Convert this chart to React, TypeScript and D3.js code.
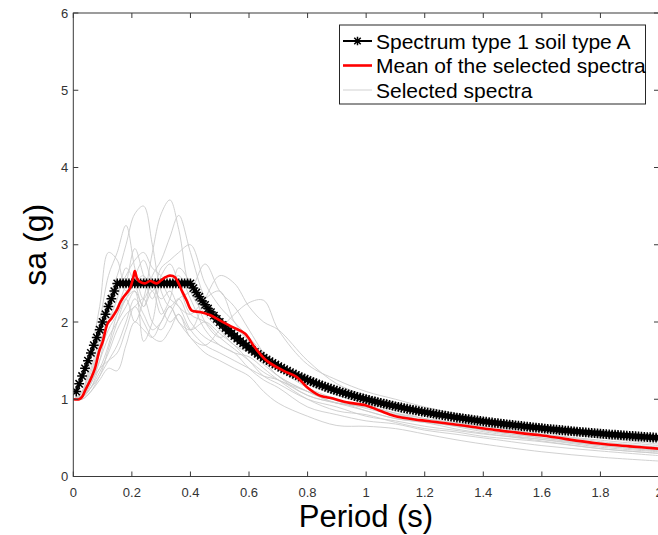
import React from "react";
import * as d3 from "d3";

// ---------- data ----------
const X_TICKS = [0, 0.2, 0.4, 0.6, 0.8, 1, 1.2, 1.4, 1.6, 1.8, 2];
const Y_TICKS = [0, 1, 2, 3, 4, 5, 6];

// Design spectrum (type 1, soil A), sampled every 0.01 s from 0.01 s to 2.00 s
const SPEC_SA = [
  1.1, 1.2, 1.3, 1.4, 1.5, 1.6, 1.7, 1.8, 1.9, 2.0, 2.1, 2.2, 2.3, 2.4, 2.5,
  2.5, 2.5, 2.5, 2.5, 2.5, 2.5, 2.5, 2.5, 2.5, 2.5, 2.5, 2.5, 2.5, 2.5, 2.5,
  2.5, 2.5, 2.5, 2.5, 2.5, 2.5, 2.5, 2.5, 2.5, 2.5,
  2.439, 2.381, 2.326, 2.273, 2.222, 2.174, 2.128, 2.083, 2.041, 2.0,
  1.961, 1.923, 1.887, 1.852, 1.818, 1.786, 1.754, 1.724, 1.695, 1.667,
  1.639, 1.613, 1.587, 1.563, 1.538, 1.515, 1.493, 1.471, 1.449, 1.429,
  1.408, 1.389, 1.37, 1.351, 1.333, 1.316, 1.299, 1.282, 1.266, 1.25,
  1.235, 1.22, 1.205, 1.19, 1.176, 1.163, 1.149, 1.136, 1.124, 1.111,
  1.099, 1.087, 1.075, 1.064, 1.053, 1.042, 1.031, 1.02, 1.01, 1.0,
  0.99, 0.98, 0.971, 0.962, 0.952, 0.943, 0.935, 0.926, 0.917, 0.909,
  0.901, 0.893, 0.885, 0.877, 0.87, 0.862, 0.855, 0.847, 0.84, 0.833,
  0.826, 0.82, 0.813, 0.806, 0.8, 0.794, 0.787, 0.781, 0.775, 0.769,
  0.763, 0.758, 0.752, 0.746, 0.741, 0.735, 0.73, 0.725, 0.719, 0.714,
  0.709, 0.704, 0.699, 0.694, 0.69, 0.685, 0.68, 0.676, 0.671, 0.667,
  0.662, 0.658, 0.654, 0.649, 0.645, 0.641, 0.637, 0.633, 0.629, 0.625,
  0.621, 0.617, 0.613, 0.61, 0.606, 0.602, 0.599, 0.595, 0.592, 0.588,
  0.585, 0.581, 0.578, 0.575, 0.571, 0.568, 0.565, 0.562, 0.559, 0.556,
  0.552, 0.549, 0.546, 0.543, 0.541, 0.538, 0.535, 0.532, 0.529, 0.526,
  0.524, 0.521, 0.518, 0.515, 0.513, 0.51, 0.508, 0.505, 0.503, 0.5,
];
const SPEC_T = SPEC_SA.map((_, i) => (i + 1) / 100);

// Mean of selected spectra
const MEAN_T = [
  0, 0.02, 0.03, 0.04, 0.057, 0.074, 0.089, 0.1, 0.117, 0.131, 0.148, 0.16,
  0.171, 0.193, 0.205, 0.21, 0.218, 0.228, 0.245, 0.262, 0.285, 0.3, 0.315,
  0.33, 0.347, 0.37, 0.387, 0.404, 0.432, 0.467, 0.5, 0.546, 0.586, 0.62,
  0.66, 0.717, 0.762, 0.797, 0.84, 0.887, 0.933, 1.0, 1.047, 1.1, 1.183,
  1.25, 1.33, 1.445, 1.6, 1.786, 1.9, 2.0,
];
const MEAN_SA = [
  1.0, 1.0, 1.03, 1.11, 1.24, 1.4, 1.63, 1.74, 1.98, 2.05, 2.15, 2.25,
  2.32, 2.43, 2.58, 2.66, 2.56, 2.52, 2.5, 2.53, 2.5, 2.54, 2.58,
  2.6, 2.58, 2.41, 2.28, 2.15, 2.13, 2.09, 2.02, 1.93, 1.85, 1.67,
  1.5, 1.37, 1.29, 1.16, 1.05, 1.01, 0.96, 0.92, 0.85, 0.78, 0.73,
  0.7, 0.66, 0.6, 0.53, 0.43, 0.39, 0.36,
];

// Selected spectra, sampled on a shared period grid
const SEL_T = [
  0, 0.03, 0.06, 0.09, 0.12, 0.15, 0.18, 0.21, 0.24, 0.27, 0.3, 0.33, 0.36,
  0.4, 0.45, 0.5, 0.55, 0.6, 0.65, 0.7, 0.8, 0.9, 1.0, 1.1, 1.2, 1.3, 1.4,
  1.6, 1.8, 2.0,
];
const SEL_1 = [1.0,1.05,1.25,1.6,1.9,2.1,2.3,2.0,2.3,2.9,3.4,3.58,3.2,2.4,2.1,1.9,1.7,1.6,1.45,1.3,1.1,0.95,0.9,0.8,0.72,0.66,0.6,0.5,0.4,0.33];
const SEL_2 = [1.0,1.1,1.4,1.8,2.3,2.6,3.0,3.4,3.5,3.0,2.4,2.2,2.3,2.0,1.8,1.7,1.6,1.55,1.4,1.25,1.0,0.85,0.8,0.7,0.62,0.58,0.52,0.45,0.36,0.3];
const SEL_3 = [1.0,1.08,1.5,2.0,2.6,2.9,3.25,2.7,2.3,2.5,2.2,2.0,2.1,1.9,2.0,1.85,1.7,1.5,1.3,1.2,1.0,0.9,0.78,0.72,0.65,0.6,0.55,0.48,0.4,0.34];
const SEL_4 = [1.0,1.1,1.6,2.2,2.9,2.8,2.4,2.6,2.8,2.5,2.3,2.4,2.2,2.1,2.3,2.4,2.0,1.75,1.5,1.3,1.05,0.95,0.85,0.75,0.7,0.66,0.62,0.55,0.45,0.38];
const SEL_5 = [1.0,1.02,1.2,1.5,1.8,2.0,2.2,2.4,2.2,2.6,2.8,3.1,3.38,2.9,2.3,2.0,1.8,1.7,1.55,1.4,1.2,1.05,0.95,0.85,0.75,0.7,0.65,0.58,0.5,0.45];
const SEL_6 = [1.0,1.03,1.25,1.4,1.7,2.1,2.3,2.5,2.6,2.4,2.7,2.8,2.9,3.0,2.5,2.2,2.0,1.8,1.6,1.45,1.25,1.1,1.0,0.92,0.85,0.78,0.72,0.62,0.52,0.45];
const SEL_7 = [1.0,1.02,1.15,1.35,1.6,1.9,2.1,2.2,2.3,2.0,1.9,2.1,2.3,2.4,2.75,2.4,2.2,1.9,1.6,1.4,1.15,1.0,0.88,0.8,0.72,0.68,0.6,0.5,0.42,0.35];
const SEL_8 = [1.0,1.0,1.1,1.3,1.5,1.7,2.0,2.3,2.1,1.9,2.0,2.2,2.0,1.9,2.3,2.6,2.5,2.2,2.0,1.9,1.5,1.2,1.05,0.95,0.85,0.8,0.75,0.65,0.55,0.48];
const SEL_9 = [1.0,1.03,1.15,1.4,1.5,1.6,1.9,2.2,2.0,1.8,1.75,1.9,2.1,1.8,1.7,1.9,2.1,2.25,2.28,1.9,1.45,1.25,1.1,1.0,0.9,0.82,0.75,0.62,0.5,0.42];
const SEL_10 = [1.0,1.0,1.1,1.25,1.4,1.37,1.7,2.0,1.9,1.8,2.0,2.2,2.0,1.8,1.6,1.5,1.4,1.3,1.1,0.95,0.78,0.66,0.65,0.62,0.55,0.48,0.42,0.32,0.25,0.2];
const SEL_11 = [1.0,1.05,1.3,1.7,2.1,2.4,2.6,2.8,2.9,2.7,2.6,2.5,2.6,2.3,1.9,1.7,1.6,1.4,1.25,1.15,0.9,0.8,0.72,0.68,0.6,0.55,0.5,0.4,0.33,0.27];
const SEL_12 = [1.0,1.04,1.2,1.5,2.0,2.2,2.5,2.95,2.6,2.3,2.6,2.75,2.5,2.1,2.0,1.8,1.65,1.5,1.35,1.25,1.1,0.98,0.85,0.75,0.7,0.62,0.56,0.46,0.36,0.3];
const SEL_13 = [1.0,1.06,1.35,1.7,2.0,2.3,2.7,2.5,2.2,2.4,2.1,2.3,2.7,2.5,2.0,1.8,1.9,1.75,1.5,1.3,1.1,0.95,0.92,0.82,0.72,0.65,0.58,0.48,0.38,0.32];
const SEL_14 = [1.0,1.02,1.15,1.3,1.65,2.0,2.3,2.4,1.75,2.0,2.5,2.3,2.2,1.9,1.7,1.6,1.5,1.4,1.3,1.25,1.05,0.95,0.9,0.82,0.75,0.7,0.65,0.55,0.47,0.4];
const SELECTED = [SEL_1, SEL_2, SEL_3, SEL_4, SEL_5, SEL_6, SEL_7, SEL_8, SEL_9, SEL_10, SEL_11, SEL_12, SEL_13, SEL_14];

const LEGEND = ["Spectrum type 1 soil type A", "Mean of the selected spectra", "Selected spectra"];

// ---------- layout ----------
const W = 658;
const H = 535;
const L = 73.3;
const R = 659;
const T = 13;
const B = 476.5;
const FONT = "'Liberation Sans', Arial, Helvetica, sans-serif";
const AXIS = "#3a3a3a";

export default function App() {
  const x = d3.scaleLinear().domain([0, 2]).range([L, R]);
  const y = d3.scaleLinear().domain([0, 6]).range([B, T]);

  const grayLine = d3
    .line<number>()
    .x((_, i) => x(SEL_T[i]))
    .y((d) => y(d))
    .curve(d3.curveCatmullRom.alpha(0.5));

  const meanLine = d3
    .line<number>()
    .x((_, i) => x(MEAN_T[i]))
    .y((d) => y(d))
    .curve(d3.curveCatmullRom.alpha(0.5));

  const specLine = d3
    .line<number>()
    .x((_, i) => x(SPEC_T[i]))
    .y((d) => y(d));

  const star = (cx: number, cy: number, s: number) => {
    const d = s * 0.75;
    return `M${cx - s},${cy}H${cx + s}M${cx},${cy - s}V${cy + s}M${cx - d},${cy - d}L${cx + d},${cy + d}M${cx - d},${cy + d}L${cx + d},${cy - d}`;
  };
  const markers = SPEC_SA.map((v, i) => star(x(SPEC_T[i]), y(v), 4.9)).join("");

  const tickLen = 5;

  // legend geometry
  const lgX = 339.5;
  const lgY = 25;
  const lgW = 306;
  const lgH = 79;
  const rowY = [41, 65.5, 90];

  return (
    <div style={{ position: "absolute", left: 0, top: 0 }}>
      <svg width={W} height={H} style={{ display: "block", background: "#fff" }}>
        <defs>
          <clipPath id="plotclip">
            <rect x={L} y={T} width={R - L} height={B - T} />
          </clipPath>
        </defs>

        <g clipPath="url(#plotclip)">
          {SELECTED.map((s, k) => (
            <path key={k} d={grayLine(s) || ""} fill="none" stroke="#cccccc" strokeWidth={0.9} />
          ))}
          <path d={specLine(SPEC_SA) || ""} fill="none" stroke="#000" strokeWidth={2} />
          <path d={markers} fill="none" stroke="#000" strokeWidth={1.5} />
          <path d={meanLine(MEAN_SA) || ""} fill="none" stroke="#ff0000" strokeWidth={2.6} strokeLinejoin="round" />
        </g>

        {/* axes box */}
        <rect x={L} y={T} width={R - L} height={B - T} fill="none" stroke={AXIS} strokeWidth={1} />
        {X_TICKS.map((t) => (
          <g key={"x" + t}>
            <line x1={x(t)} x2={x(t)} y1={B} y2={B - tickLen} stroke={AXIS} />
            <line x1={x(t)} x2={x(t)} y1={T} y2={T + tickLen} stroke={AXIS} />
            <text x={x(t)} y={B + 20} textAnchor="middle" fontFamily={FONT} fontSize={13} fill="#333">
              {t}
            </text>
          </g>
        ))}
        {Y_TICKS.map((t) => (
          <g key={"y" + t}>
            <line x1={L} x2={L + tickLen} y1={y(t)} y2={y(t)} stroke={AXIS} />
            <line x1={R} x2={R - tickLen} y1={y(t)} y2={y(t)} stroke={AXIS} />
            <text x={L - 5} y={y(t) + 4.5} textAnchor="end" fontFamily={FONT} fontSize={13} fill="#333">
              {t}
            </text>
          </g>
        ))}

        {/* axis labels */}
        <text x={366} y={527} textAnchor="middle" fontFamily={FONT} fontSize={31} fill="#000">
          Period (s)
        </text>
        <text
          transform={`translate(46,${(T + B) / 2}) rotate(-90)`}
          textAnchor="middle"
          fontFamily={FONT}
          fontSize={32}
          fill="#000"
        >
          sa (g)
        </text>

        {/* legend */}
        <rect x={lgX} y={lgY} width={lgW} height={lgH} fill="#fff" stroke="#262626" strokeWidth={1} />
        <line x1={343} x2={372} y1={rowY[0]} y2={rowY[0]} stroke="#000" strokeWidth={2} />
        <path d={star(357.5, rowY[0], 4.3)} stroke="#000" strokeWidth={1.5} fill="none" />
        <line x1={343} x2={372} y1={rowY[1]} y2={rowY[1]} stroke="#ff0000" strokeWidth={2.6} />
        <line x1={343} x2={372} y1={rowY[2]} y2={rowY[2]} stroke="#cccccc" strokeWidth={0.9} />
        {LEGEND.map((s, i) => (
          <text key={s} x={376} y={rowY[i] + 7.5} fontFamily={FONT} fontSize={21} fill="#000">
            {s}
          </text>
        ))}
      </svg>
    </div>
  );
}
